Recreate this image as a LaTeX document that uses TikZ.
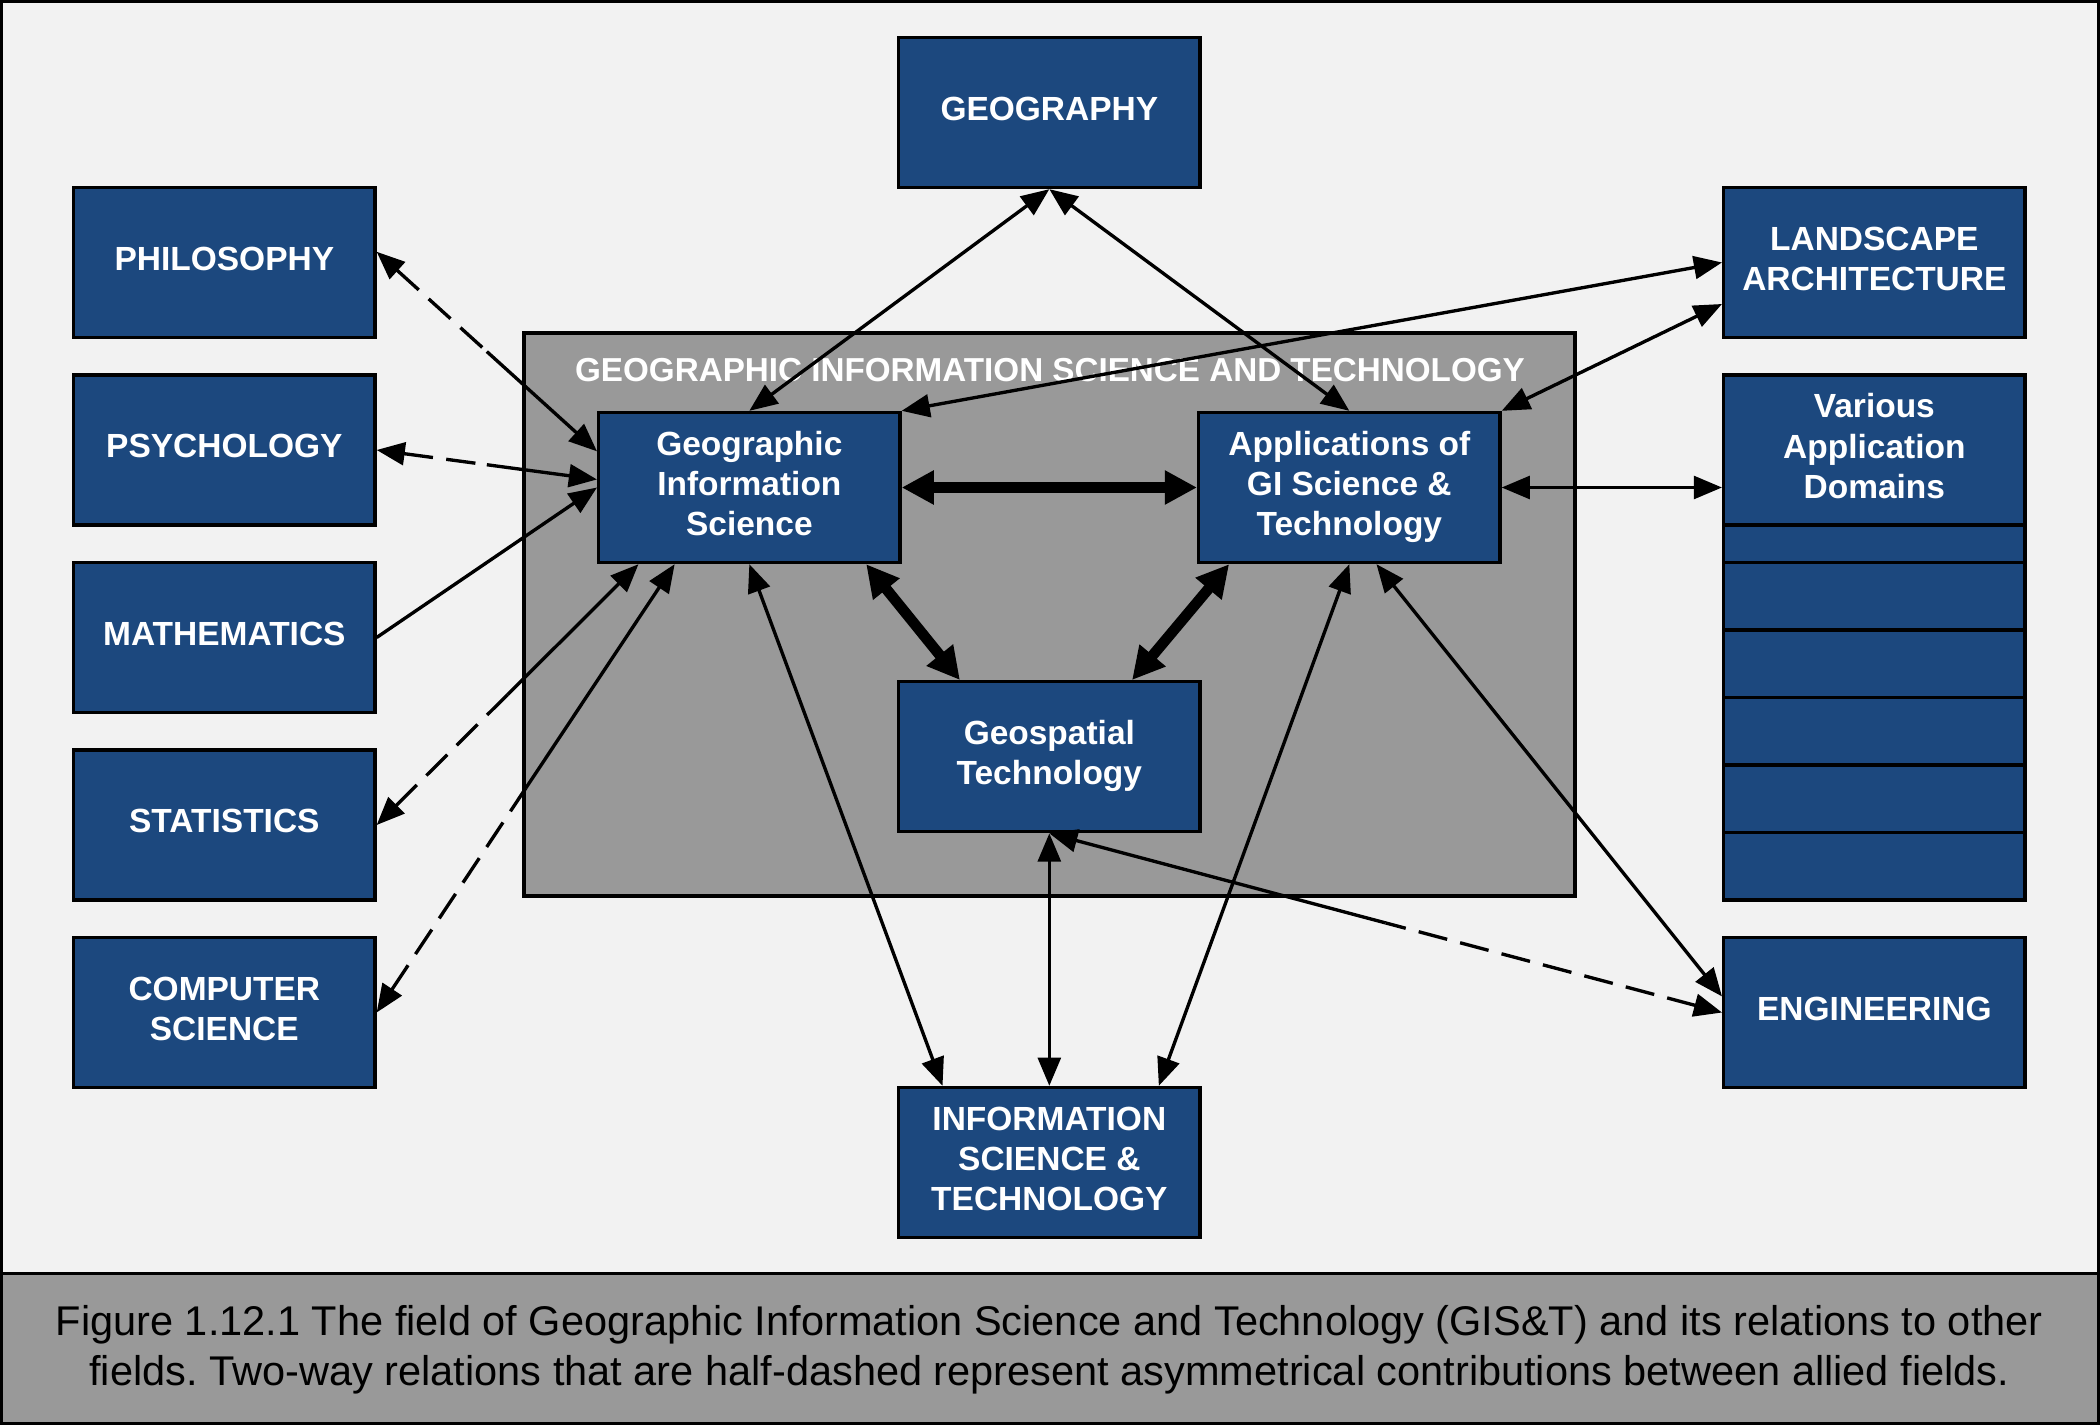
\documentclass[tikz,border=0pt]{standalone}
\usepackage{fontspec}
\setmainfont{Liberation Sans}
\usetikzlibrary{arrows.meta,positioning,calc}
\definecolor{fieldblue}{RGB}{28,72,126}
\definecolor{panelgray}{RGB}{153,153,153}
\definecolor{paper}{RGB}{242,242,242}
\frenchspacing

\begin{document}
\begin{tikzpicture}[x=1pt,y=-1pt,>={Triangle[length=21pt,width=17pt]},line width=2.5pt,node distance=140pt,
        field/.style={draw=black,line width=2.5pt,fill=fieldblue,text=white,align=center,text depth=6pt,
          font=\fontsize{25}{30}\selectfont\bfseries,minimum width=225pt,minimum height=112pt,inner sep=0pt},
        rel/.style={<->},
        halfdash/.style={dash pattern=on 22pt off 10pt},
        strong/.style={line width=8pt,{Triangle[length=24pt,width=24pt]}-{Triangle[length=24pt,width=24pt]}}]

        \useasboundingbox (0,0) rectangle (1568,1064);
        \fill[paper] (0,0) rectangle (1568,1064);
        \filldraw[fill=panelgray,line width=2.5pt] (0,951) rectangle (1568,1064);
        \draw[line width=2.5pt] (1,1) rectangle (1567,1063);

        % the GIS&T panel
        \node[draw=black,line width=3pt,fill=panelgray,minimum width=785pt,minimum height=420pt] (gist) at (783.5,459) {};
        \node[text=white,font=\fontsize{24.8}{30}\selectfont\bfseries] (gisttitle) at (784,276) {GEOGRAPHIC INFORMATION SCIENCE AND TECHNOLOGY};

        \node[field] (geog)                       at (783.5,84)  {GEOGRAPHY};
        \node[field] (phil)                       at (167.5,196) {PHILOSOPHY};
        \node[field] (psych) [below of=phil]      {PSYCHOLOGY};
        \node[field] (math)  [below of=psych]     {MATHEMATICS};
        \node[field] (stats) [below of=math]      {STATISTICS};
        \node[field] (cs)    [below of=stats]     {COMPUTER\\SCIENCE};
        \node[field] (gis)                        at (559.5,364) {Geographic\\Information\\Science};
        \node[field] (app)   [right of=gis,node distance=448pt] {Applications of\\GI Science \&\\Technology};
        \node[field] (geo)                        at (783.5,565) {Geospatial\\Technology};
        \node[field] (info)  [below of=geo,node distance=303pt] {INFORMATION\\SCIENCE \&\\TECHNOLOGY};
        \node[field] (land)                       at (1399.5,196) {LANDSCAPE\\ARCHITECTURE};
        \node[field] (various) [below of=land]    {Various\\Application\\Domains};
        \node[field] (eng)   [below of=various,node distance=420pt] {ENGINEERING};

        % stack of further domains
        \filldraw[fill=fieldblue,line width=2.5pt] (1287,392) rectangle (1512,672);
        \foreach \k in {0,...,4}
            \draw[line width=2.5pt] (1287,{420+50.4*\k}) -- ++(225,0);

        % solid relations
        \draw[rel] (geog.south) -- (gis.north);
        \draw[rel] (geog.south) -- (app.north);
        \draw[rel] (gis.north east) -- (land.west);
        \draw[rel] (app.north east) -- ($(land.west)+(0,31)$);
        \draw[rel] (app.east) -- (app.east -| various.west);
        \draw[rel] (gis.south) -- ($(info.north west)+(34,0)$);
        \draw[rel] (geo.south) -- (info.north);
        \draw[rel] (app.south) -- ($(info.north east)+(-32,0)$);
        \draw[rel] ($(app.south west)+(134,0)$) -- ($(eng.west)+(0,-12)$);
        \draw[->] (math.east) -- (gis.west);

        % core of the field
        \draw[strong] (gis.east) -- (app.west);
        \draw[strong] ($(gis.south west)+(201,0)$) -- ($(geo.north west)+(47,0)$);
        \draw[strong] ($(app.south west)+(24,0)$) -- ($(geo.north east)+(-52,0)$);

        % half-dashed relations (dashed half at the allied field)
        \coordinate (phA) at ($(phil.east)+(0,-8)$);
        \coordinate (phB) at ($(gis.west)+(0,-27)$);
        \coordinate (psA) at (psych.east);
        \coordinate (psB) at ($(gis.west)+(0,-6)$);
        \coordinate (stA) at (stats.east);
        \coordinate (stB) at ($(gis.south west)+(31,0)$);
        \coordinate (csA) at (cs.east);
        \coordinate (csB) at ($(gis.south west)+(58,0)$);
        \coordinate (enA) at (eng.west);
        \coordinate (enB) at (geo.south);
        \foreach \s/\t in {phA/phB,psA/psB,stA/stB,csA/csB,enA/enB} {
            \draw[<-,halfdash] (\s) -- ($(\s)!0.5!(\t)$);
            \draw[->] ($(\s)!0.5!(\t)$) -- (\t);
        }

        \node[align=center,font=\fontsize{31}{37}\selectfont] (caption) at (783.5,1008)
            {Figure 1.12.1 The field of Geographic Information Science and Technology (GIS\&T) and its relations to other\\
             fields. Two-way relations that are half-dashed represent asymmetrical contributions between allied fields.};
    \end{tikzpicture}
\end{document}
